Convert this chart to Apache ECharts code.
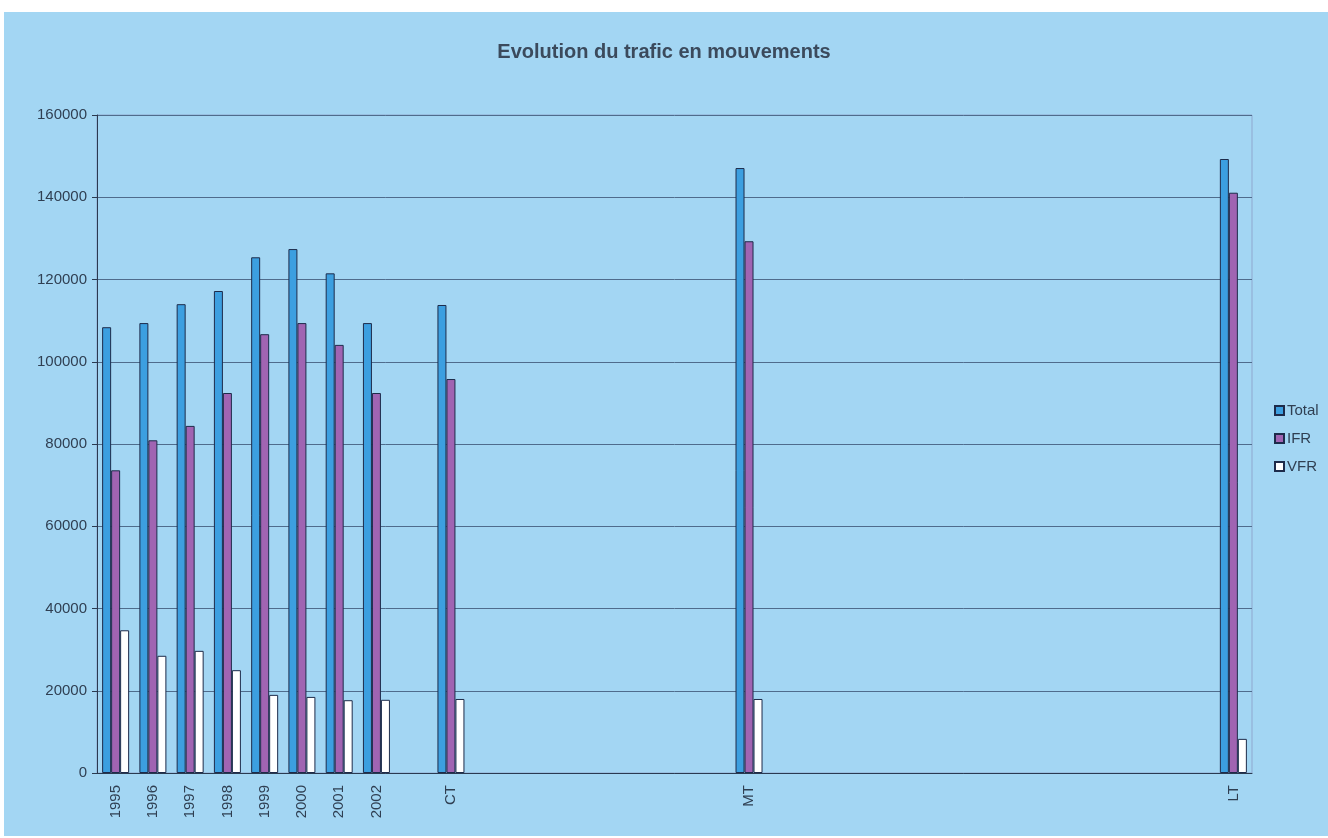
<!DOCTYPE html>
<html>
<head>
<meta charset="utf-8">
<script src="https://cdn.jsdelivr.net/npm/echarts@6/dist/echarts.min.js"></script>
<style>
html,body{margin:0;padding:0;background:#ffffff;}
#chart{width:1328px;height:838px;}
</style>
</head>
<body>
<div id="chart"></div>
<script>
// Category slots (empty strings are unlabelled gap slots on the axis)
var categories = [
  '1995','1996','1997','1998','1999','2000','2001','2002',
  '', 'CT',
  '', '', '', '', '', '', '', 'MT',
  '', '', '', '', '', '', '', '', '', '', '', '', 'LT'
];
var totalValues = [
  108400,109400,114000,117200,125400,127400,121500,109400,
  null,113800,
  null,null,null,null,null,null,null,147100,
  null,null,null,null,null,null,null,null,null,null,null,null,149300
];
var ifrValues = [
  73600,80900,84400,92400,106700,109400,104100,92400,
  null,95800,
  null,null,null,null,null,null,null,129300,
  null,null,null,null,null,null,null,null,null,null,null,null,141100
];
var vfrValues = [
  34700,28500,29700,25000,19000,18500,17700,17800,
  null,18000,
  null,null,null,null,null,null,null,18000,
  null,null,null,null,null,null,null,null,null,null,null,null,8300
];
var seriesNames = ['Total','IFR','VFR'];
var yTicks = {min: 0, max: 160000, interval: 20000};

var chart = echarts.init(document.getElementById('chart'), null, {renderer: 'canvas'});
var txt = '#2f3f52';
var font = 'Liberation Sans, Arial, sans-serif';
var barBorder = '#1d2b4a';
var option = {
  backgroundColor: '#ffffff',
  animation: false,
  graphic: [{
    type: 'rect', z: -10, silent: true,
    shape: {x: 4, y: 12, width: 1324, height: 824},
    style: {fill: '#a3d6f3'}
  }],
  title: {
    text: 'Evolution du trafic en mouvements',
    left: 'center', top: 37,
    textStyle: {fontFamily: font, fontSize: 20, fontWeight: 'bold', color: '#3b4a5c'}
  },
  legend: {
    orient: 'vertical', left: 1269, top: 398,
    itemWidth: 9, itemHeight: 9, itemGap: 13,
    icon: 'rect',
    textStyle: {fontFamily: font, fontSize: 15, color: txt, padding: [0,0,0,-2]},
    data: seriesNames
  },
  grid: {
    left: 97, right: 76, top: 115, bottom: 65,
    show: true, borderColor: '#8fa8cf', borderWidth: 1, backgroundColor: 'transparent',
    containLabel: false
  },
  xAxis: {
    type: 'category',
    data: categories,
    axisLine: {lineStyle: {color: '#2a3a50', width: 1}},
    axisTick: {show: false},
    axisLabel: {
      interval: 0, rotate: 90, margin: 12,
      fontFamily: font, fontSize: 15, color: txt
    },
    splitLine: {show: false}
  },
  yAxis: {
    type: 'value',
    min: yTicks.min, max: yTicks.max, interval: yTicks.interval,
    axisLine: {show: true, lineStyle: {color: '#2a3a50', width: 1}},
    axisTick: {show: true, length: 5, lineStyle: {color: '#2a3a50'}},
    axisLabel: {margin: 10, fontFamily: font, fontSize: 15, color: txt,
      formatter: function (v) { return String(v); }},
    splitLine: {show: true, lineStyle: {color: '#4f6c8c', width: 1}}
  },
  series: [
    {name: seriesNames[0], type: 'bar', data: totalValues, barWidth: 9, barGap: '0%',
     itemStyle: {color: '#3c9fe0', borderColor: barBorder, borderWidth: 1}},
    {name: seriesNames[1], type: 'bar', data: ifrValues, barWidth: 9, barGap: '0%',
     itemStyle: {color: '#a064b2', borderColor: barBorder, borderWidth: 1}},
    {name: seriesNames[2], type: 'bar', data: vfrValues, barWidth: 9, barGap: '0%',
     itemStyle: {color: '#ffffff', borderColor: barBorder, borderWidth: 1}}
  ]
};
chart.setOption(option);
</script>
</body>
</html>
